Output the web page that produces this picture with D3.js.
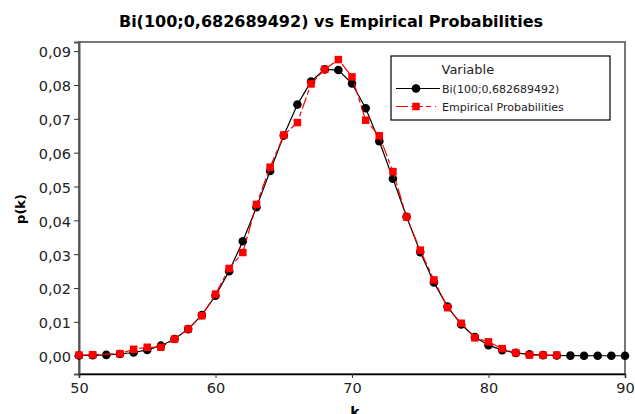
<!DOCTYPE html>
<html>
<head>
<meta charset="utf-8">
<script src="https://cdn.jsdelivr.net/npm/d3@7"></script>
<style>
  html, body { margin: 0; padding: 0; background: #fff; }
  svg { display: block; font-family: "DejaVu Sans", sans-serif; }
</style>
</head>
<body>
<svg id="chart" width="635" height="414"></svg>
<script>
// k values for the binomial series (50..90)
const binomK = d3.range(50, 91);
// Bi(100; 0,682689492) probabilities for k = 50..90
const binomP = [
  0.00006, 0.00013, 0.00026, 0.00051, 0.00095, 0.00172, 0.00297, 0.00493, 0.00787, 0.01205,
  0.01771, 0.02499, 0.03382, 0.04389, 0.05459, 0.06505, 0.07421, 0.08103, 0.08460, 0.08441,
  0.08043, 0.07312, 0.06336, 0.05229, 0.04105, 0.03062, 0.02167, 0.01453, 0.00922, 0.00552,
  0.00312, 0.00166, 0.00083, 0.00039, 0.00017, 0.00007, 0.00003, 0.00001, 0.0, 0.0, 0.0
];
// observed k values (no observation at k = 52)
const empK = [50, 51, 53, 54, 55, 56, 57, 58, 59, 60, 61, 62, 63, 64, 65, 66, 67, 68, 69, 70,
  71, 72, 73, 74, 75, 76, 77, 78, 79, 80, 81, 82, 83, 84, 85];
// empirical relative frequencies
const empP = [0.0002, 0.0003, 0.0006, 0.0019, 0.0025, 0.0025, 0.0049, 0.0079, 0.0118, 0.0182,
  0.0258, 0.0305, 0.0447, 0.0557, 0.0652, 0.0689, 0.0803, 0.0846, 0.0875, 0.0824,
  0.0696, 0.0650, 0.0544, 0.0410, 0.0312, 0.0224, 0.0142, 0.0096, 0.0053, 0.0041,
  0.0021, 0.0009, 0.0002, 0.0002, 0.0002];

const xTicks = [50, 60, 70, 80, 90];
const yTicks = [0, 0.01, 0.02, 0.03, 0.04, 0.05, 0.06, 0.07, 0.08, 0.09];

const titleText = "Bi(100;0,682689492) vs Empirical Probabilities";
const legendTitle = "Variable";
const seriesNames = ["Bi(100;0,682689492)", "Empirical Probabilities"];

const svg = d3.select("#chart");
const plotLeft = 79, plotRight = 625, plotTop = 42, plotBottom = 374;

const x = d3.scaleLinear().domain([50, 90]).range([plotLeft, plotRight]);
const y = d3.scaleLinear().domain([-0.0054, 0.0927]).range([plotBottom, plotTop]);

const fmtY = v => d3.format(".2f")(v).replace(".", ",");

// title
svg.append("text")
  .attr("x", 331).attr("y", 26.5)
  .attr("text-anchor", "middle")
  .attr("font-size", 16).attr("font-weight", "bold")
  .attr("fill", "#000")
  .text(titleText);

// plot frame
svg.append("rect")
  .attr("x", plotLeft).attr("y", plotTop)
  .attr("width", plotRight - plotLeft).attr("height", plotBottom - plotTop)
  .attr("fill", "none").attr("stroke", "#555").attr("stroke-width", 1.6);

// y axis
const yAxis = svg.append("g")
  .attr("transform", `translate(${plotLeft},0)`)
  .call(d3.axisLeft(y).tickValues(yTicks).tickFormat(fmtY).tickSize(5).tickPadding(3));
yAxis.select(".domain").attr("stroke", "#555").attr("stroke-width", 2);
yAxis.selectAll(".tick line").attr("stroke", "#333");
yAxis.selectAll(".tick text")
  .attr("font-size", 14.5).attr("font-family", "DejaVu Sans, sans-serif")
  .attr("fill", "#222").attr("dy", "0.4em");

// x axis
const xAxis = svg.append("g")
  .attr("transform", `translate(0,${plotBottom})`)
  .call(d3.axisBottom(x).tickValues(xTicks).tickFormat(d3.format("d")).tickSize(4).tickPadding(5));
xAxis.select(".domain").attr("stroke", "#000").attr("stroke-width", 1.5);
xAxis.selectAll(".tick line").attr("stroke", "#333");
xAxis.selectAll(".tick text")
  .attr("font-size", 14.5).attr("font-family", "DejaVu Sans, sans-serif")
  .attr("fill", "#222");

// axis titles
svg.append("text")
  .attr("x", 355).attr("y", 417)
  .attr("text-anchor", "middle")
  .attr("font-size", 14).attr("font-weight", "bold")
  .text("k");
svg.append("text")
  .attr("transform", "translate(25,209) rotate(-90)")
  .attr("text-anchor", "middle")
  .attr("font-size", 13).attr("font-weight", "bold")
  .text("p(k)");

const binom = binomK.map((k, i) => ({ k, p: binomP[i] }));
const emp = empK.map((k, i) => ({ k, p: empP[i] }));

const line = d3.line().x(d => x(d.k)).y(d => y(d.p));

// binomial series: solid black line with filled circles
svg.append("path")
  .datum(binom)
  .attr("d", line)
  .attr("fill", "none").attr("stroke", "#000").attr("stroke-width", 1.2);
svg.append("g").selectAll("circle")
  .data(binom).join("circle")
  .attr("cx", d => x(d.k)).attr("cy", d => y(d.p))
  .attr("r", 4.3).attr("fill", "#000");

// empirical series: dashed red line with filled squares
const sq = 7.5;
svg.append("path")
  .datum(emp)
  .attr("d", line)
  .attr("fill", "none").attr("stroke", "#f00").attr("stroke-width", 1.2)
  .attr("stroke-dasharray", "12,3,5,3");
svg.append("g").selectAll("rect")
  .data(emp).join("rect")
  .attr("x", d => x(d.k) - sq / 2).attr("y", d => y(d.p) - sq / 2)
  .attr("width", sq).attr("height", sq)
  .attr("fill", "#f00");

// legend
const lg = svg.append("g");
lg.append("rect")
  .attr("x", 391).attr("y", 56).attr("width", 219).attr("height", 64)
  .attr("fill", "#fff").attr("stroke", "#000").attr("stroke-width", 1.2);
lg.append("text")
  .attr("x", 441.5).attr("y", 74)
  .attr("font-size", 13).attr("fill", "#222")
  .text(legendTitle);

const rows = [88.5, 106.5];
// row 1: binomial
lg.append("line")
  .attr("x1", 396).attr("x2", 440).attr("y1", rows[0]).attr("y2", rows[0])
  .attr("stroke", "#000").attr("stroke-width", 1.2);
lg.append("circle").attr("cx", 416).attr("cy", rows[0]).attr("r", 4.3).attr("fill", "#000");
// row 2: empirical
lg.append("line")
  .attr("x1", 396).attr("x2", 440).attr("y1", rows[1]).attr("y2", rows[1])
  .attr("stroke", "#f00").attr("stroke-width", 1.2)
  .attr("stroke-dasharray", "12,3,12,3,5,4,1,4");
lg.append("rect")
  .attr("x", 416 - sq / 2).attr("y", rows[1] - sq / 2)
  .attr("width", sq).attr("height", sq).attr("fill", "#f00");

lg.selectAll("text.entry")
  .data(seriesNames).join("text")
  .attr("class", "entry")
  .attr("x", 442).attr("y", (d, i) => rows[i] + 4)
  .attr("font-size", 11).attr("fill", "#222")
  .text(d => d);
</script>
</body>
</html>
